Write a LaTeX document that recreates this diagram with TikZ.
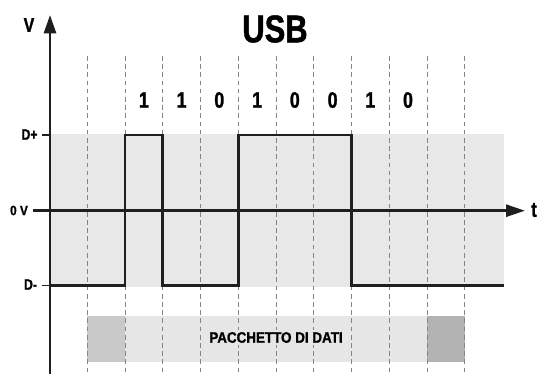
\documentclass[tikz,border=0pt]{standalone}
\usepackage{fontspec}
\newfontfamily\condbold{Liberation Sans Bold}[FakeStretch=0.8,FakeBold=1.2]
\newfontfamily\condwide{Liberation Sans Bold}[FakeStretch=0.88,FakeBold=1.2]
\usepackage{tikz}
\usetikzlibrary{arrows.meta}
\definecolor{bandgray}{HTML}{E8E8E8}
\definecolor{boxlight}{HTML}{E6E6E6}
\definecolor{boxmid}{HTML}{C9C9C9}
\definecolor{boxdark}{HTML}{B3B3B3}
\definecolor{gridgray}{HTML}{858585}
\colorlet{sigblack}{black!88}

\begin{document}
\begin{tikzpicture}[x=0.03cm,y=-0.03cm,
    lbl/.style={font=\condbold\fontsize{13}{14}\selectfont,inner sep=0pt},
    bit/.style={font=\condbold\fontsize{19}{20}\selectfont,inner sep=0pt},
    grid/.style={draw=gridgray,line width=0.6pt,dash pattern=on 4pt off 3pt}]
% one unit = one pixel of the 538 x 374 sketch, y runs downwards
\useasboundingbox (0,0) rectangle (538,374);
% ---- the band between D- and D+ ----------------------------------------
\fill[bandgray] (50,134) rectangle (503.7,287);
% ---- the packet bar ----------------------------------------------------
\fill[boxlight] (87.3,315.7) rectangle (464.7,361.7);
\fill[boxmid] (87.3,315.7) rectangle (125,361.7);
\fill[boxdark] (426.7,315.7) rectangle (464.7,361.7);
% ---- bit slots (37.74 px each) -----------------------------------------
\draw[grid] (87.3,56) -- (87.3,374);
\draw[grid] (125.0,56) -- (125.0,374);
\draw[grid] (162.7,56) -- (162.7,374);
\draw[grid] (200.5,56) -- (200.5,374);
\draw[grid] (238.2,56) -- (238.2,374);
\draw[grid] (276.0,56) -- (276.0,374);
\draw[grid] (313.7,56) -- (313.7,374);
\draw[grid] (351.5,56) -- (351.5,374);
\draw[grid] (389.2,56) -- (389.2,374);
\draw[grid] (426.9,56) -- (426.9,374);
\draw[grid] (464.7,56) -- (464.7,374);
\node[font=\condwide\fontsize{13}{14}\selectfont,fill=boxlight,inner sep=2pt]
  (packet) at (276,337.5) {PACCHETTO DI DATI};
% ---- the signal --------------------------------------------------------
\draw[sigblack,line width=2.3pt] (50,285.5) -- (125,285.5) -- (125,135)
  -- (162.7,135) -- (162.7,285.5) -- (238.2,285.5) -- (238.2,135)
  -- (351.5,135) -- (351.5,285.5) -- (503.7,285.5);
% ---- axes --------------------------------------------------------------
\draw[sigblack,line width=2.3pt,-{Triangle[length=0.55cm,width=0.36cm]}]
  (50,374) -- (50,15);
\draw[sigblack,line width=2.3pt,-{Triangle[length=0.57cm,width=0.36cm]}]
  (33,210.7) -- (525,210.7);
\draw[sigblack,line width=1.2pt] (42,135) -- (50,135);
\draw[sigblack,line width=1.2pt] (42,285.5) -- (50,285.5);
\node[font=\condbold\fontsize{17}{18}\selectfont,inner sep=0pt] (vlab) at (29,25) {V};
\node[font=\condbold\fontsize{18}{19}\selectfont,inner sep=0pt] (tlab) at (534,210) {t};
\node[lbl] (dplus) at (29.5,134.5) {D+};
\node[lbl,font=\condwide\fontsize{11.5}{12}\selectfont] (zero) at (19,210.5) {0 V};
\node[lbl] (dminus) at (30.5,284.5) {D-};
% ---- title and bits ----------------------------------------------------
\node[font=\condbold\fontsize{33}{34}\selectfont,inner sep=0pt] (title) at (275,29) {USB};
\node[bit] (b1) at (143.9,100) {1};
\node[bit] (b2) at (181.6,100) {1};
\node[bit] (b3) at (219.3,100) {0};
\node[bit] (b4) at (257.1,100) {1};
\node[bit] (b5) at (294.8,100) {0};
\node[bit] (b6) at (332.6,100) {0};
\node[bit] (b7) at (370.3,100) {1};
\node[bit] (b8) at (408.0,100) {0};
\end{tikzpicture}
\end{document}
